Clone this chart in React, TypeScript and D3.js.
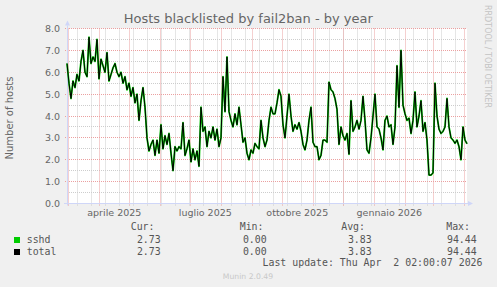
import React from 'react';
import * as d3 from 'd3';

const TITLE = 'Hosts blacklisted by fail2ban - by year';
const Y_LABEL = 'Number of hosts';
const WATERMARK = 'RRDTOOL / TOBI OETIKER';
const FOOTER = 'Munin 2.0.49';
const LAST_UPDATE = 'Last update: Thu Apr  2 02:00:07 2026';

// time window of the graph (400 days) and sampling of the series
const START = Date.UTC(2025, 1, 27, 17);
const END = Date.UTC(2026, 3, 3, 17);
const STEP_DAYS = 2;

// sshd: hosts blacklisted (every 2 days)
const sshd = [
  6.4, 5.5, 4.8, 5.6, 5.3, 5.9, 5.6, 6.5, 7.0, 6.0, 5.8, 7.6, 6.4, 6.7, 6.5, 7.5, 5.7, 6.6, 6.3, 6.0,
  6.9, 5.6, 5.9, 6.2, 6.4, 6.0, 5.8, 6.0, 5.5, 5.8, 5.2, 5.5, 4.9, 5.3, 4.6, 5.0, 3.8, 4.7, 5.3, 4.4,
  3.0,
  2.4, 2.7, 2.9, 2.2, 2.9, 2.3, 3.6, 2.5, 3.1, 2.7, 3.2, 2.3, 1.5, 2.6, 2.4, 2.6, 2.5, 3.7, 2.2, 2.5,
  2.9, 1.9, 2.5, 2.0, 2.4, 1.7,
  4.4, 3.3, 3.5, 2.6, 3.3, 3.0, 3.5, 2.9, 3.4, 2.6, 3.0, 5.8, 4.2, 6.7, 4.2, 3.8, 3.5, 4.1, 3.6, 4.4,
  3.6, 2.8, 3.0, 2.3, 2.0,
  2.45, 2.3, 2.75, 2.6, 2.5, 3.8, 3.0, 2.6, 2.9, 3.8, 4.4, 4.1, 4.1, 4.6, 5.2, 4.9, 3.6, 3.0, 4.0, 5.0,
  4.0, 3.3, 3.6, 3.4, 3.7, 3.3, 2.7, 2.45, 2.9, 3.8, 4.4, 2.8, 2.6, 2.6, 2.0, 2.2, 2.9, 2.9, 2.8, 5.55,
  5.2, 5.1, 4.8, 4.3, 2.7, 3.5, 3.1, 2.9, 3.2, 2.25, 4.7, 3.3, 3.5, 3.8, 3.4, 3.8, 4.9, 3.8, 2.45, 2.3,
  3.0, 4.0, 5.0, 3.5, 3.4, 3.0, 2.45, 3.8, 4.0, 3.5, 3.6, 2.7, 3.5, 6.3, 4.4, 7.0, 4.5, 4.1, 3.8, 3.9,
  3.2, 3.8, 5.1, 3.5, 4.0, 4.7, 3.3, 3.7, 2.9, 1.3, 1.3, 1.4, 5.5, 4.0, 3.4, 3.2, 3.3, 3.5, 4.8, 3.5,
  3.0, 2.9, 2.75, 2.9, 2.6, 2.0, 3.5, 2.9, 2.73,
];
const seriesList = [sshd];
const total = sshd.map((_, i) => d3.sum(seriesList, (s) => s[i]));

const yTicks = [0, 1, 2, 3, 4, 5, 6, 7, 8];
const yMinorTicks = [0.5, 1.5, 2.5, 3.5, 4.5, 5.5, 6.5, 7.5];
const monthLabels = ['aprile 2025', 'luglio 2025', 'ottobre 2025', 'gennaio 2026'];
const monthLabelDates = [Date.UTC(2025, 3, 1), Date.UTC(2025, 6, 1), Date.UTC(2025, 9, 1), Date.UTC(2026, 0, 1)];
const minorGridStart = Date.UTC(2025, 2, 10);

const legendNames = ['sshd', 'total'];
const legendColors = ['#00CC00', '#000000'];
const legendHeaders = ['Cur:', 'Min:', 'Avg:', 'Max:'];
const curVals = ['2.73', '2.73'];
const minVals = ['0.00', '0.00'];
const avgVals = ['3.83', '3.83'];
const maxVals = ['94.44', '94.44'];

export default function App() {
  const W = 497, H = 287;
  const x0 = 67, x1 = 467, yTop = 28.5, yBot = 203.5;
  const x = d3.scaleUtc().domain([START, END]).range([x0, x1]);
  const y = d3.scaleLinear().domain([0, 8]).range([yBot, yTop]);
  const dateOf = (i: number) => START + i * STEP_DAYS * 86400000;
  const line = d3.line<number>().x((_, i) => x(dateOf(i))).y((v) => y(v));

  const months = d3.utcMonth.range(new Date(START), new Date(END));
  const biweeks = d3.utcDay.range(new Date(minorGridStart), new Date(END), 14).filter((d) => x(d) < x1);
  const crisp = (v: number) => Math.round(v - 0.5) + 0.5;

  const font = 'DejaVu Sans, sans-serif';
  const mono = 'DejaVu Sans Mono, monospace';
  const axisCol = '#CFD6F8';
  const minorCol = '#CDCDCD';
  const majorCol = '#EBA0A0';

  const colEnds = [154.5, 263.5, 365, 470];
  const valEnds = [160.7, 266.7, 371.7, 476.7];
  const rowY = [242.5, 254.5];
  const statCols = [curVals, minVals, avgVals, maxVals];

  return (
    <svg width={W} height={H} style={{ position: 'absolute', left: 0, top: 0 }}>
      <rect x={0} y={0} width={W} height={H} fill="#F0F0F0" />
      <rect x={x0} y={yTop} width={x1 - x0} height={yBot - yTop} fill="#FFFFFF" />

      {/* minor grid */}
      {yMinorTicks.map((t) => (
        <line key={'ym' + t} x1={x0} x2={x1} y1={crisp(y(t))} y2={crisp(y(t))} stroke={minorCol} strokeDasharray="1 1" />
      ))}
      {biweeks.map((d) => (
        <line key={'xm' + +d} x1={crisp(x(d))} x2={crisp(x(d))} y1={yTop} y2={yBot + 2} stroke={minorCol} strokeDasharray="1 1" />
      ))}
      {/* major grid */}
      {yTicks.filter((t) => t > 0).map((t) => (
        <line key={'yM' + t} x1={x0 - 2} x2={x1} y1={crisp(y(t))} y2={crisp(y(t))} stroke={majorCol} strokeDasharray="1 1" />
      ))}
      {months.map((d) => (
        <line key={'xM' + +d} x1={crisp(x(d))} x2={crisp(x(d))} y1={yTop} y2={yBot + 3} stroke={majorCol} strokeDasharray="1 1" />
      ))}

      {/* axes */}
      <line x1={x0 - 3} x2={x1 + 2} y1={crisp(yBot)} y2={crisp(yBot)} stroke={axisCol} />
      <path d={`M${x1 + 1},${crisp(yBot) - 2.5} L${x1 + 6},${crisp(yBot)} L${x1 + 1},${crisp(yBot) + 2.5} Z`} fill={axisCol} />
      <line x1={crisp(x0)} x2={crisp(x0)} y1={yBot + 2} y2={yTop - 3} stroke={axisCol} />
      <path d={`M${crisp(x0) - 2.5},${yTop - 3} L${crisp(x0)},${yTop - 8} L${crisp(x0) + 2.5},${yTop - 3} Z`} fill={axisCol} />

      {/* series */}
      <path d={line(sshd) || ''} fill="none" stroke="#00CC00" strokeWidth={1.8} strokeLinejoin="round" />
      <path d={line(total) || ''} fill="none" stroke="#000000" strokeWidth={1} strokeLinejoin="round" />

      {/* y tick labels */}
      {yTicks.map((t) => (
        <text key={'yl' + t} x={60} y={y(t) + 3.5} textAnchor="end" fontFamily={font} fontSize={9.5} fill="#666666">
          {d3.format('.1f')(t)}
        </text>
      ))}
      {/* x tick labels */}
      {monthLabels.map((l, i) => (
        <text key={l} x={x(monthLabelDates[i] + 15 * 86400000)} y={215.5} textAnchor="middle" fontFamily={font} fontSize={9.5} fill="#666666">
          {l}
        </text>
      ))}

      <text x={248.3} y={23} textAnchor="middle" fontFamily={font} fontSize={13} fill="#666666">{TITLE}</text>
      <text transform={`translate(13,${(yTop + yBot) / 2 + 2}) rotate(-90)`} textAnchor="middle" fontFamily={font} fontSize={10} fill="#666666">{Y_LABEL}</text>
      <text transform="translate(485,5) rotate(90)" textAnchor="start" fontFamily={font} fontSize={8} fill="#C4C4C4">{WATERMARK}</text>

      {/* legend */}
      {legendHeaders.map((h, i) => (
        <text key={h} x={colEnds[i]} y={229.5} textAnchor="end" fontFamily={mono} fontSize={9.9} fill="#555555" style={{ whiteSpace: 'pre' }}>{h}</text>
      ))}
      {legendNames.map((n, r) => (
        <g key={n}>
          <rect x={14} y={rowY[r] - 5.5} width={6} height={6} fill={legendColors[r]} />
          <text x={26.7} y={rowY[r]} fontFamily={mono} fontSize={9.9} fill="#555555">{n}</text>
          {statCols.map((col, c) => (
            <text key={c} x={valEnds[c]} y={rowY[r]} textAnchor="end" fontFamily={mono} fontSize={9.9} fill="#555555">{col[r]}</text>
          ))}
        </g>
      ))}
      <text x={482.5} y={265.5} textAnchor="end" fontFamily={mono} fontSize={9.9} fill="#555555" style={{ whiteSpace: 'pre' }}>{LAST_UPDATE}</text>
      <text x={248} y={279} textAnchor="middle" fontFamily={font} fontSize={7.7} fill="#C8C8C8">{FOOTER}</text>
    </svg>
  );
}
